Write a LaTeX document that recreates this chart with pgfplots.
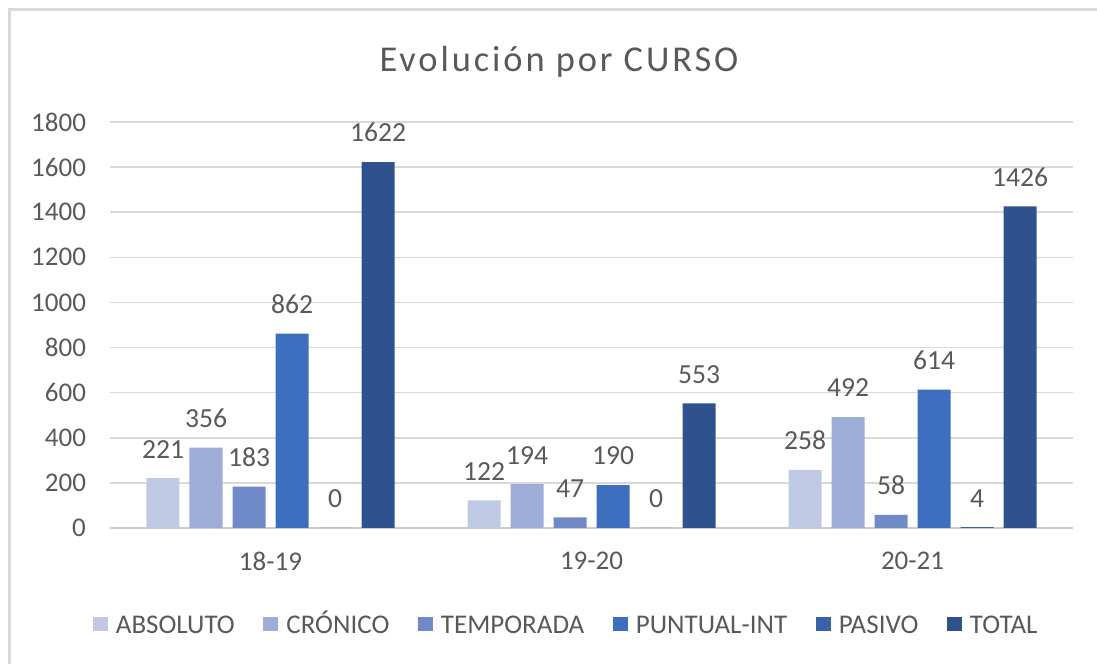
\documentclass[border=0pt]{standalone}
\usepackage{pgfplots}
\pgfplotsset{compat=1.18}
\usepackage{fontspec}
\setmainfont{Carlito}
\newfontfamily\titlefont[LetterSpace=8]{Carlito}
\definecolor{cabs}{HTML}{BFC9E4}
\definecolor{ccro}{HTML}{9DADD7}
\definecolor{ctem}{HTML}{7089C7}
\definecolor{cpun}{HTML}{3E6EBE}
\definecolor{cpas}{HTML}{3A62AA}
\definecolor{ctot}{HTML}{2F528F}
\definecolor{txt}{HTML}{595959}
\definecolor{gridc}{HTML}{D9D9D9}
\definecolor{framec}{HTML}{D9D9D9}

\pgfplotsset{
    sq/.style={fill=#1, draw=none,
        legend image code/.code={\fill[#1] (0pt,-3.5pt) rectangle (7.5pt,3.5pt);}},
}

\begin{document}
\begin{tikzpicture}
\path[use as bounding box] (0pt,0pt) rectangle (548.5pt,332pt);
\draw[line width=1.5pt, framec] (4.75pt,0pt) -- (4.75pt,327pt) -- (548.5pt,327pt);
\node[font=\titlefont\fontsize{18.2}{20}\selectfont, text=txt] at (279.5pt,301pt) {Evolución por CURSO};
\begin{axis}[
    at={(55pt,68pt)}, anchor=south west,
    scale only axis,
    width=481.5pt, height=203pt,
    xmin=-0.5, xmax=2.5,
    ymin=0, ymax=1800,
    ytick distance=200,
    xtick={0,1,2},
    xticklabels={18-19,19-20,20-21},
    ybar=5pt, bar width=16.5pt,
    axis x line*=bottom,
    axis y line*=left,
    y axis line style={draw=none},
    x axis line style={draw=gridc!85!gray, line width=0.75pt},
    major tick length=0pt,
    ymajorgrids,
    grid style={draw=gridc, line width=0.75pt},
    /pgf/number format/1000 sep={},
    /pgf/number format/assume math mode=true,
    tick label style={font=\fontsize{13.5}{15}\selectfont, text=txt},
    xticklabel style={yshift=-8.5pt},
    yticklabel style={xshift=-8.5pt},
    nodes near coords,
    every node near coord/.append style={font=\fontsize{13.8}{15}\selectfont, text=txt, anchor=south, yshift=6.5pt},
    clip=false,
    legend columns=6,
    legend style={draw=none, fill=none, at={(0.4753,-0.2365)}, anchor=center,
        font=\fontsize{13.5}{15}\selectfont, text=txt,
        nodes={text height=9.5pt, text depth=0pt, inner xsep=2.5pt},
        /tikz/every odd column/.append style={column sep=1.5pt},
        /tikz/every even column/.append style={column sep=11.8pt}},
]
\addplot[sq=cabs] coordinates {(0,221) (1,122) (2,258)};
\addplot[sq=ccro] coordinates {(0,356) (1,194) (2,492)};
\addplot[sq=ctem] coordinates {(0,183) (1,47) (2,58)};
\addplot[sq=cpun] coordinates {(0,862) (1,190) (2,614)};
\addplot[sq=cpas] coordinates {(0,0) (1,0) (2,4)};
\addplot[sq=ctot] coordinates {(0,1622) (1,553) (2,1426)};
\legend{ABSOLUTO,CRÓNICO,TEMPORADA,PUNTUAL-INT,PASIVO,TOTAL}
\end{axis}
\end{tikzpicture}
\end{document}
